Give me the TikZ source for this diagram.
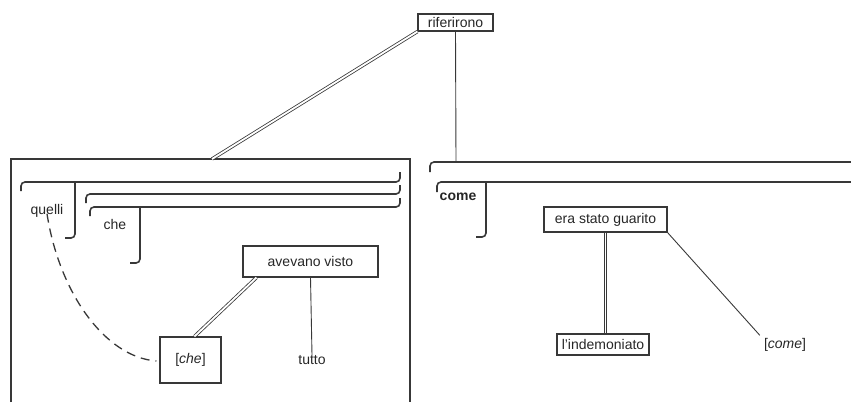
\documentclass[tikz,border=0pt]{standalone}
\usepackage{fontspec}
\setmainfont{Liberation Sans}
\definecolor{ink}{gray}{0.22}
\definecolor{txt}{gray}{0.15}
\begin{document}
\begin{tikzpicture}[x=1pt,y=-1pt,
  every node/.style={font=\fontsize{14}{16}\selectfont, text=txt, inner sep=0pt},
  box/.style={draw=ink, line width=1.1pt},
  br/.style={draw=ink, line width=1.6pt, rounded corners=4pt},
  thinline/.style={draw=ink, line width=0.9pt},
  dbl/.style={draw=ink, line width=0.8pt, double=white, double distance=1.8pt}]
\useasboundingbox (0,0) rectangle (851,402);
% nodes
\node[box,minimum width=75pt,minimum height=17pt] (rif) at (455.5,22.5) {riferirono};
\node[box,minimum width=135pt,minimum height=31pt] (av) at (310.5,261.5) {avevano visto};
\node[box,minimum width=61pt,minimum height=46pt] (che2) at (190.5,360) {[\textit{che}]};
\node (tutto) at (312,360) {tutto};
\node (quelli) at (47,211) {quelli};
\node (che) at (115,224) {che};
\node (come) at (458,197) {\textbf{come}};
\node[box,minimum width=123pt,minimum height=25pt] (esg) at (605.5,219.5) {era stato guarito};
\node[box,minimum width=92pt,minimum height=21pt] (ind) at (603,344.5) {l'indemoniato};
\node (come2) at (785,345) {[\textit{come}]};
\coordinate (lbtop) at (212,159);
\coordinate (rbtop) at (456,162);
% left box
\draw[box] (11,402) -- (11,159) -- (410,159) -- (410,402);
% left brackets
\draw[br] (21,191) -- (21,182) -- (400,182) -- (400,172);
\draw[br] (75,182) -- (75,238) -- (65,238);
\draw[br] (86,203) -- (86,194) -- (400,194) -- (400,185);
\draw[br] (90,216) -- (90,207) -- (400,207) -- (400,198);
\draw[br] (140,207) -- (140,263) -- (130,263);
% right brackets
\draw[br] (430,172) -- (430,162) -- (851,162);
\draw[br] (437,192) -- (437,182) -- (851,182);
\draw[br] (486,182) -- (486,237) -- (476,237);
% connectors
\draw[dbl] (rif.south west) -- (lbtop);
\draw[thinline] (rif.south) -- (rbtop);
\draw[dbl] ([xshift=14pt]av.south west) -- ([xshift=35pt]che2.north west);
\draw[thinline] (av.south) -- (tutto.north);
\draw[draw=ink, line width=1.3pt, dash pattern=on 9pt off 6pt] ([yshift=4pt]quelli.south) .. controls +(12,78) and +(-52,-4) .. ([xshift=-3pt,yshift=-1pt]che2.west);
\draw[dbl] (esg.south) -- (esg.south |- ind.north);
\draw[thinline] (esg.south east) -- ([xshift=-4pt,yshift=3pt]come2.north west);
\end{tikzpicture}
\end{document}
